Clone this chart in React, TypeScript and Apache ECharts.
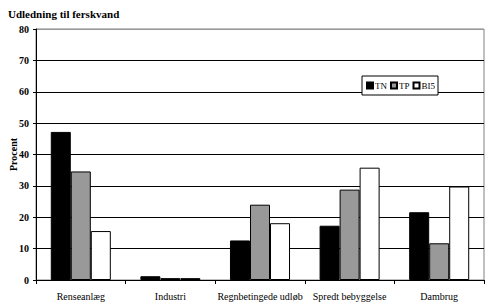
import React, { useEffect, useRef } from "react";
import * as echarts from "echarts";

const categories = ["Renseanlæg", "Industri", "Regnbetingede udløb", "Spredt bebyggelse", "Dambrug"];
const tnValues = [47.2, 1.2, 12.6, 17.3, 21.6];
const tpValues = [34.6, 0.6, 24.0, 28.8, 11.7];
const bi5Values = [15.6, 0.6, 18.1, 35.8, 29.8];
const seriesNames = ["TN", "TP", "BI5"];
const yTicks = { min: 0, max: 80, interval: 10 };

const FONT = "'Liberation Serif', 'DejaVu Serif', serif";

export default function App() {
  const ref = useRef<HTMLDivElement>(null);
  useEffect(() => {
    if (!ref.current) return;
    const chart = echarts.init(ref.current, null, { renderer: "svg" });
    const barStyle = (color: string) => ({
      color,
      borderColor: "#000",
      borderWidth: 1,
    });
    chart.setOption({
      animation: false,
      backgroundColor: "#fff",
      title: {
        text: "Udledning til ferskvand",
        left: 3,
        top: 3,
        textStyle: { fontFamily: FONT, fontSize: 11, fontWeight: "bold", color: "#000" },
      },
      legend: {
        data: seriesNames,
        left: 362,
        top: 76,
        icon: "rect",
        itemWidth: 6,
        itemHeight: 6,
        itemGap: 3,
        padding: [5, 3, 5, 4],
        backgroundColor: "#fff",
        borderColor: "#000",
        borderWidth: 1,
        borderRadius: 0,
        textStyle: { fontFamily: FONT, fontSize: 9, color: "#000", padding: [0, 0, 0, -3] },
      },
      grid: {
        left: 36,
        right: 5,
        top: 29,
        bottom: 24,
        outerBoundsMode: "none",
        containLabel: false,
        show: true,
        borderColor: "#808080",
        borderWidth: 1,
      },
      xAxis: {
        type: "category",
        data: categories,
        axisLine: { lineStyle: { color: "#000", width: 1 } },
        axisTick: { show: true, length: 4, lineStyle: { color: "#000" } },
        axisLabel: { fontFamily: FONT, fontSize: 10, color: "#000", margin: 11, interval: 0 },
      },
      yAxis: {
        type: "value",
        min: yTicks.min,
        max: yTicks.max,
        interval: yTicks.interval,
        name: "Procent",
        nameLocation: "middle",
        nameRotate: 90,
        nameGap: 18,
        nameMoveOverlap: false,
        nameTextStyle: { fontFamily: FONT, fontSize: 10, fontWeight: "bold", color: "#000" },
        axisLine: { show: true, lineStyle: { color: "#000", width: 1 } },
        axisTick: { show: true, length: 3, lineStyle: { color: "#000" } },
        axisLabel: { fontFamily: FONT, fontSize: 10, fontWeight: "bold", color: "#000", margin: 7 },
        splitLine: {
          show: true,
          lineStyle: {
            color: ["#000", "#000", "#000", "#000", "#000", "#000", "#000", "#000", "#999"],
            width: 1,
          },
        },
      },
      series: [
        { name: seriesNames[0], type: "bar", data: tnValues, itemStyle: barStyle("#000"), barGap: "0%", barCategoryGap: "33%" },
        { name: seriesNames[1], type: "bar", data: tpValues, itemStyle: barStyle("#999999"), barGap: "0%", barCategoryGap: "33%" },
        { name: seriesNames[2], type: "bar", data: bi5Values, itemStyle: barStyle("#fff"), barGap: "0%", barCategoryGap: "33%" },
      ],
    });
    return () => chart.dispose();
  }, []);
  return <div ref={ref} style={{ width: 489, height: 304, position: "fixed", left: 0, top: 0 }} />;
}
